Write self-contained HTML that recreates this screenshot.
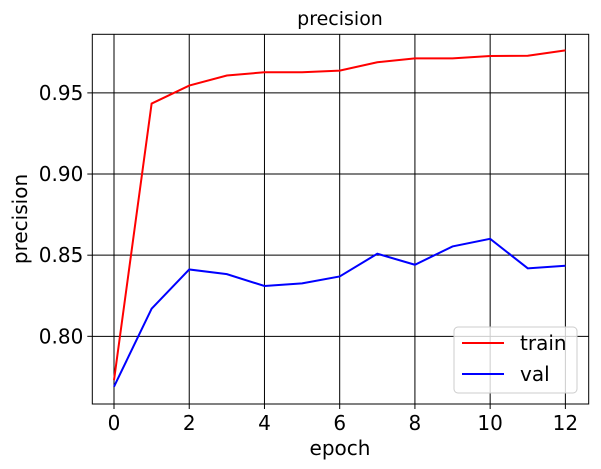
<!DOCTYPE html>
<html><head><meta charset="utf-8"><style>
body{margin:0;background:#fff;}
svg{display:block;font-family:"DejaVu Sans","Liberation Sans",sans-serif;}
</style></head><body>
<svg id="chart" width="601" height="469">
<text x="340" y="25" font-size="19" text-anchor="middle">precision</text>
<text x="340" y="455" font-size="20" text-anchor="middle">epoch</text>
<text x="27" y="219" font-size="20" text-anchor="middle" transform="rotate(-90 27 219)">precision</text>
<g id="grid"></g><g id="series"></g><g id="ticks"></g>
<rect x="92.3" y="34.3" width="496.4" height="369.7" fill="none" stroke="#000" stroke-width="1"/>
<g>
<rect x="454" y="327" width="123" height="66" rx="4" fill="#fff" fill-opacity="0.8" stroke="#ccc"/>
<line x1="462" y1="343" x2="504" y2="343" stroke="red" stroke-width="2"/>
<text x="520" y="350" font-size="20">train</text>
<line x1="462" y1="374" x2="504" y2="374" stroke="blue" stroke-width="2"/>
<text x="520" y="381" font-size="20">val</text>
</g>
</svg>
<script>
const epochs=[0,1,2,3,4,5,6,7,8,9,10,11,12];
const trainVals=[0.773,0.9434,0.9545,0.9607,0.9627,0.9627,0.9637,0.9689,0.9713,0.9713,0.9727,0.9729,0.9762];
const valVals=[0.769,0.817,0.8412,0.8383,0.831,0.8326,0.8369,0.8509,0.8441,0.8554,0.8601,0.8419,0.8435];
const xTicks=[0,2,4,6,8,10,12];
const yTicks=[0.80,0.85,0.90,0.95];
const yTickLabels=["0.80","0.85","0.90","0.95"];
const L=92.3,R=588.7,T=34.3,B=404;
const xMin=-0.577,xMax=12.62,yMin=0.7583,yMax=0.9861;
const sx=v=>L+(v-xMin)/(xMax-xMin)*(R-L);
const sy=v=>B-(v-yMin)/(yMax-yMin)*(B-T);
const NS="http://www.w3.org/2000/svg";
const grid=document.getElementById('grid'),ticks=document.getElementById('ticks'),series=document.getElementById('series');
function mk(tag,attrs,parent){const e=document.createElementNS(NS,tag);for(const k in attrs)e.setAttribute(k,attrs[k]);parent.appendChild(e);return e;}
xTicks.forEach(v=>{
 const x=sx(v);
 const g=mk('line',{x1:x,y1:T,x2:x,y2:B,stroke:'#000','stroke-width':1},grid);
 
 
 const t=mk('line',{x1:x,y1:B,x2:x,y2:B+5,stroke:'#000'},ticks);
 
 
 const l=mk('text',{x:x,y:B+26,'font-size':20,'text-anchor':'middle'},ticks);
 l.textContent=v;
 
 
});
yTicks.forEach((v,i)=>{
 const y=sy(v);
 const g=mk('line',{x1:L,y1:y,x2:R,y2:y,stroke:'#000','stroke-width':1},grid);
 
 
 const t=mk('line',{x1:L-5,y1:y,x2:L,y2:y,stroke:'#000'},ticks);
 
 
 const l=mk('text',{x:L-9,y:y+7,'font-size':20,'text-anchor':'end'},ticks);
 l.textContent=yTickLabels[i];
 
 
});
function line(vals,color,name){
 const p=mk('polyline',{points:vals.map((v,i)=>sx(epochs[i])+','+sy(v)).join(' '),fill:'none',stroke:color,'stroke-width':2},series);
 
 
}
line(trainVals,'red','train-line');
line(valVals,'blue','val-line');
</script>
</body></html>
